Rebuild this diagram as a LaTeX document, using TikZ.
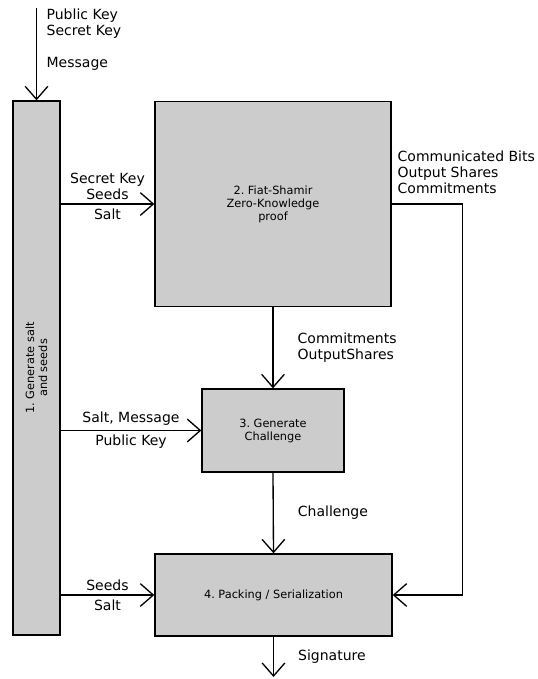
\documentclass[tikz,border=0pt]{standalone}
\usepackage{fontspec}
\setmainfont{DejaVu Sans}
\usetikzlibrary{arrows.meta}
\frenchspacing

\begin{document}
\begin{tikzpicture}[x=0.75pt, y=-0.75pt, line width=1pt,
    stage/.style={draw, fill=black!20, inner sep=0pt},
    stagetext/.style={align=center, inner sep=0pt, font=\fontsize{8.5}{9.75}\selectfont},
    flow/.style={-{Straight Barb[length=9.75pt, width=17pt, line width=1pt]}},
    lbl/.style={align=left, inner sep=0pt, font=\fontsize{10.5}{12}\selectfont}]
      \useasboundingbox (0, 0) rectangle (537, 679);

      % Define coordinates
      \coordinate (input) at (36.5, 8);
      \coordinate (bypass) at (462.5, 204);
      \coordinate (output) at (273.5, 677);

      % Draw the four stages
      \node[stage, minimum width=35.25pt, minimum height=400.5pt] (gen) at (36.5, 368) {};
      \node[stagetext, rotate=90] at (gen.center) {1. Generate salt\\and seeds};

      \node[stage, minimum width=177pt, minimum height=153.75pt] (fs) at (273, 204) {};
      \node[stagetext] at (fs.center) {2. Fiat-Shamir\\Zero-Knowledge\\proof};

      \node[stage, minimum width=106.5pt, minimum height=62.25pt] (chal) at (273, 430.5) {};
      \node[stagetext] at (chal.center) {3. Generate\\Challenge};

      \node[stage, minimum width=177.75pt, minimum height=61.5pt] (pack) at (273.5, 595) {};
      \node[stagetext] at (pack.center) {4. Packing / Serialization};

      % Inputs of the first stage
      \draw[flow] (input) -- (gen.north);
      \node[lbl, anchor=north west] (keys) at (46, 8) {Public Key\\Secret Key};
      \node[lbl, anchor=north west] (msg) at (46, 57) {Message};

      % Draw arrows out of the first stage
      \draw[flow] (gen.east |- fs.west) -- node[lbl, above=3pt, align=center] {Secret Key\\Seeds}
                                          node[lbl, below=3pt] {Salt} (fs.west);
      \draw[flow] (gen.east |- chal.west) -- node[lbl, above=3pt] {Salt, Message}
                                            node[lbl, below=3pt] {Public Key} (chal.west);
      \draw[flow] (gen.east |- pack.west) -- node[lbl, above=3pt] {Seeds}
                                            node[lbl, below=3pt] {Salt} (pack.west);

      % Draw arrows down the middle
      \draw[flow] (fs.south) -- node[lbl, right=18pt] {Commitments\\OutputShares} (chal.north);
      \draw[flow] (chal.south) -- node[lbl, right=18pt] {Challenge} (pack.north);
      \draw[flow] (pack.south) -- node[lbl, right=18pt] {Signature} (output);

      % Draw the bypass on the right
      \draw[flow] (fs.east) -- node[lbl, pos=0, anchor=south west, xshift=4pt, yshift=7.5pt]
                  {Communicated Bits\\Output Shares\\Commitments} (bypass) |- (pack.east);
    \end{tikzpicture}
\end{document}
